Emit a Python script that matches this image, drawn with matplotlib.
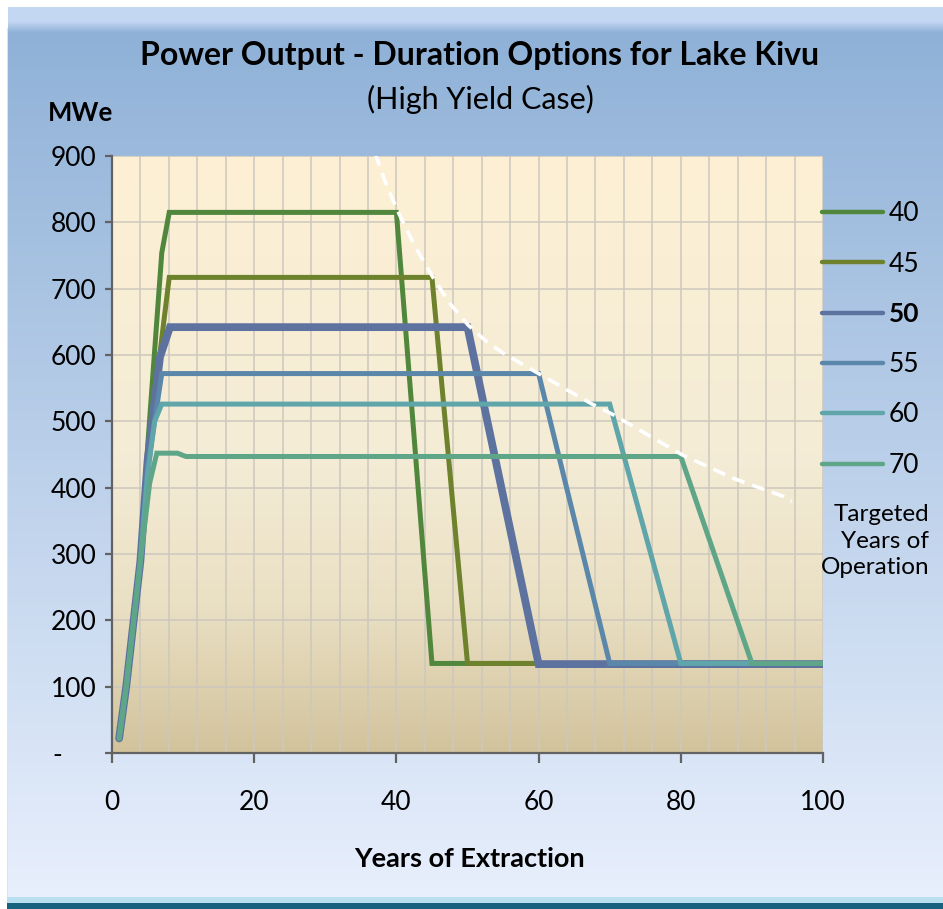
import numpy as np
import matplotlib
matplotlib.use("Agg")
import matplotlib.pyplot as plt
from matplotlib.colors import to_rgb

plt.rcParams['font.family'] = ['Lato', 'DejaVu Sans']

# -----------------------------
# Data
# -----------------------------
series_labels = ["40", "45", "50", "55", "60", "70"]

years_40 = [1, 2, 3, 4, 5, 7, 8.05, 40, 45, 100]
mwe_40 = [22, 100, 195, 290, 460, 754, 815, 815, 135, 135]

years_45 = [1, 2, 3, 4, 5, 8.05, 45, 50, 100]
mwe_45 = [22, 100, 195, 290, 450, 717, 717, 135, 135]

years_50 = [1, 2, 3, 4, 5, 6.75, 8.15, 50, 60, 100]
mwe_50 = [22, 100, 195, 290, 440, 597, 642, 642, 134, 134]

years_55 = [1, 2, 3, 4, 5, 7, 60, 70, 100]
mwe_55 = [22, 100, 195, 290, 430, 572, 572, 135, 135]

years_60 = [1, 2, 3, 4, 5, 6, 7, 70, 80, 100]
mwe_60 = [22, 100, 195, 290, 420, 500, 526, 526, 135, 135]

years_70 = [1, 2, 3, 4, 5.3, 6.3, 9.2, 10.4, 80, 90, 100]
mwe_70 = [22, 100, 195, 290, 407, 452, 452, 447, 447, 135, 135]

# dashed white envelope through the plateau ends
env_years = [37.0, 38.4, 40.0, 42.6, 45.2, 47.5, 50.1, 52.7, 55.0, 60.0,
             64.4, 67.7, 70.5, 80.1, 87.4, 94.4, 95.6]
env_mwe = [904, 862, 821, 764, 716, 678, 645, 620, 603, 572,
           545, 525, 510, 450, 414, 387, 379]

x_ticks = [0, 20, 40, 60, 80, 100]
y_ticks = [0, 100, 200, 300, 400, 500, 600, 700, 800, 900]
y_tick_labels = ["-     ", "100", "200", "300", "400", "500", "600", "700", "800", "900"]

colors = ["#50873c", "#6e822d", "#5e72a0", "#5a87aa", "#5fa5aa", "#5fa587"]
widths = [3.6, 3.6, 5.6, 3.6, 3.6, 3.6]

# -----------------------------
# Figure + background
# -----------------------------
W, H = 943, 909
fig = plt.figure(figsize=(W / 100, H / 100), dpi=100)

bg_ax = fig.add_axes([0, 0, 1, 1], zorder=-10)
t = np.linspace(0, 1, H)[:, None]
top_c = np.array(to_rgb("#8cafd6"))
bot_c = np.array(to_rgb("#e9f0fd"))
bg = np.repeat((top_c + (bot_c - top_c) * t)[:, None, :], W, axis=1)
band = np.array(to_rgb("#c3d6f2"))
bg[7:22, 8:] = band
for i, row in enumerate(range(22, 32)):
    a = (i + 1) / 11
    bg[row, 8:] = band * (1 - a) + bg[row, 8:] * a
bg[:7, :] = 1.0
bg[:28, :8] = 1.0
bg[28:, :7] = 1.0
bg[28:, 7] = to_rgb("#cfe8f2")
bg[897:903, 7:] = to_rgb("#b8e0ee")
bg[903:, 7:] = to_rgb("#17627e")
bg_ax.imshow(bg, aspect="auto", extent=[0, 1, 0, 1])
bg_ax.axis("off")

ax = fig.add_axes([112 / W, 1 - 753 / H, (823 - 112) / W, (753 - 156) / H])
ax.set_xlim(0, 100)
ax.set_ylim(0, 900)

# plot area gradient
stops_pos = [0.0, 0.25, 0.5, 1.0]
stops_col = np.array([to_rgb(c) for c in ["#d2c39c", "#eae0c4", "#f4ecd6", "#fdf0d4"]])
tt = np.linspace(0, 1, 256)
pg = np.stack([np.interp(tt, stops_pos, stops_col[:, k]) for k in range(3)], axis=1)
ax.imshow(pg[:, None, :], aspect="auto", extent=[0, 100, 0, 900], origin="lower", zorder=0)

# grid
ax.set_xticks(x_ticks)
ax.set_xticks(np.arange(0, 101, 4), minor=True)
ax.set_yticks(y_ticks)
ax.set_yticklabels(y_tick_labels)
ax.grid(True, which="both", axis="x", color="#cdc8be", lw=1.1, zorder=1)
ax.grid(True, which="major", axis="y", color="#cdc8be", lw=1.1, zorder=1)
ax.set_axisbelow(True)

# -----------------------------
# Series
# -----------------------------
all_years = [years_40, years_45, years_50, years_55, years_60, years_70]
all_mwe = [mwe_40, mwe_45, mwe_50, mwe_55, mwe_60, mwe_70]
lines = []
for yrs, vals, c, lw, lab in zip(all_years, all_mwe, colors, widths, series_labels):
    ln, = ax.plot(yrs, vals, color=c, lw=lw, label=lab, zorder=3,
                  solid_capstyle="round", solid_joinstyle="miter")
    lines.append(ln)

ax.plot(env_years, env_mwe, color="white", lw=2.6, ls=(0, (3.6, 2.2)), zorder=4)

# -----------------------------
# Axes styling
# -----------------------------
for s in ["top", "right"]:
    ax.spines[s].set_visible(False)
for s in ["left", "bottom"]:
    ax.spines[s].set_color("#626262")
    ax.spines[s].set_linewidth(1.6)
    ax.spines[s].set_zorder(5)
ax.tick_params(which="minor", length=0)
ax.tick_params(axis="x", which="major", length=7, width=1.6, color="#626262",
               pad=20, labelsize=19)
ax.tick_params(axis="y", which="major", length=5, width=1.6, color="#626262",
               pad=6, labelsize=19)

# -----------------------------
# Texts
# -----------------------------
fig.text(0.5085, 1 - 55 / H, "Power Output - Duration Options for Lake Kivu",
         ha="center", va="center", fontsize=23, fontweight="bold")
fig.text(0.51, 1 - 99 / H, "(High Yield Case)", ha="center", va="center", fontsize=22)
fig.text(80 / W, 1 - 113 / H, "MWe", ha="center", va="center", fontsize=18.5, fontweight="bold")
fig.text(469 / W, 1 - 859 / H, "Years of Extraction", ha="center", va="center",
         fontsize=19.5, fontweight="bold")

leg = ax.legend(handles=lines, labels=series_labels, loc="upper left",
                bbox_to_anchor=(822 / W, 1 - 201 / H), bbox_transform=fig.transFigure,
                frameon=False, fontsize=19, handlelength=2.3, handletextpad=0.22,
                labelspacing=0.97, borderpad=0, borderaxespad=0)
for l in leg.get_lines():
    l.set_linewidth(3.2)
    l.set_solid_capstyle("round")
leg.get_texts()[2].set_fontweight("bold")

fig.text(929 / W, 1 - 541 / H, "Targeted\nYears of\nOperation", ha="right", va="center",
         fontsize=17.5, linespacing=1.32)

fig.savefig("out.png", dpi=100)
